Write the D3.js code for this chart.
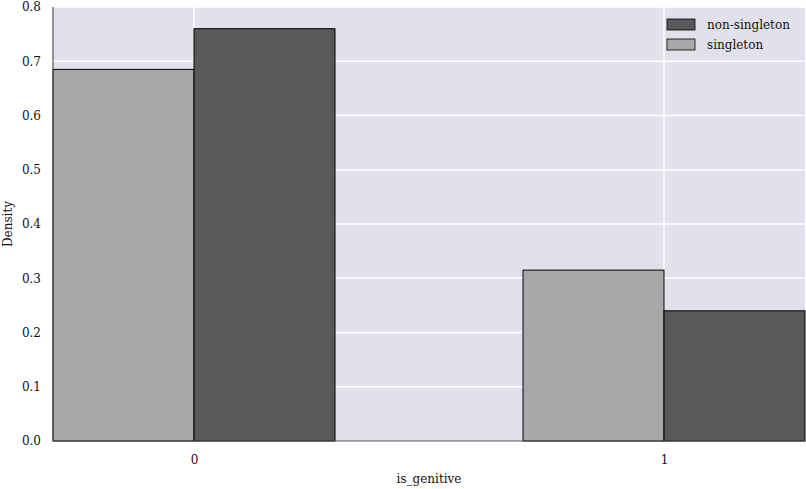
<!DOCTYPE html>
<html>
<head>
<meta charset="utf-8">
<script src="https://cdn.jsdelivr.net/npm/d3@7"></script>
<style>
  body { margin: 0; background: #fff; }
  text { font-family: "DejaVu Serif", serif; fill: #111; }
</style>
</head>
<body>
<div class="chart-container"></div>
<script>
// categories and series
const categories = [0, 1];
const seriesNames = ['non-singleton', 'singleton'];
const singleton = [0.685, 0.315];
const nonSingleton = [0.76, 0.24];
const yTicks = [0.0, 0.1, 0.2, 0.3, 0.4, 0.5, 0.6, 0.7, 0.8];

const width = 806, height = 489;
const margin = {top: 7, right: 1, bottom: 48, left: 53};

const colors = {'non-singleton': '#595959', 'singleton': '#a8a8a8'};

const svg = d3.select('.chart-container').append('svg')
    .attr('width', width)
    .attr('height', height);

// x is continuous: bars sit either side of each category value
const x = d3.scaleLinear()
    .domain([-0.3, 1.3])
    .range([margin.left, width - margin.right]);

const y = d3.scaleLinear()
    .domain([0, 0.8])
    .range([height - margin.bottom, margin.top]);

const barW = 0.3;

// background
svg.append('rect')
    .attr('x', x(-0.3)).attr('y', y(0.8))
    .attr('width', x(1.3) - x(-0.3))
    .attr('height', y(0) - y(0.8))
    .attr('fill', '#e1e1ec');

// grid
const grid = svg.append('g').attr('id', 'grid');
grid.selectAll('line.h')
    .data(yTicks.slice(1))
    .enter().append('line')
    .attr('class', 'h')
    .attr('x1', x(-0.3)).attr('x2', x(1.3))
    .attr('y1', d => y(d)).attr('y2', d => y(d))
    .attr('stroke', '#fff').attr('stroke-width', 1.5);
grid.selectAll('line.v')
    .data(categories)
    .enter().append('line')
    .attr('class', 'v')
    .attr('x1', d => x(d)).attr('x2', d => x(d))
    .attr('y1', y(0)).attr('y2', y(0.8))
    .attr('stroke', '#fff').attr('stroke-width', 1.5);

// bars: singleton left of category, non-singleton right
const bars = svg.append('g').attr('id', 'bars');
bars.selectAll('rect.single')
    .data(categories)
    .enter().append('rect')
    .attr('class', 'single')
    .attr('x', d => x(d - barW))
    .attr('y', (d, i) => y(singleton[i]))
    .attr('width', x(barW) - x(0))
    .attr('height', (d, i) => y(0) - y(singleton[i]))
    .attr('fill', colors['singleton'])
    .attr('stroke', '#000').attr('stroke-width', 1);
bars.selectAll('rect.nonsingle')
    .data(categories)
    .enter().append('rect')
    .attr('class', 'nonsingle')
    .attr('x', d => x(d))
    .attr('y', (d, i) => y(nonSingleton[i]))
    .attr('width', x(barW) - x(0))
    .attr('height', (d, i) => y(0) - y(nonSingleton[i]))
    .attr('fill', colors['non-singleton'])
    .attr('stroke', '#000').attr('stroke-width', 1);

// spines
svg.append('line')
    .attr('x1', x(-0.3)).attr('x2', x(-0.3))
    .attr('y1', y(0.8)).attr('y2', y(0))
    .attr('stroke', '#555').attr('stroke-width', 1.2);
svg.append('line')
    .attr('x1', x(-0.3)).attr('x2', x(1.3))
    .attr('y1', y(0)).attr('y2', y(0))
    .attr('stroke', '#555').attr('stroke-width', 1.2);

// axes
const yAxis = d3.axisLeft(y).tickValues(yTicks).tickFormat(d3.format('.1f')).tickSize(0).tickPadding(12);
svg.append('g')
    .attr('transform', 'translate(' + x(-0.3) + ',0)')
    .call(yAxis)
    .call(g => g.select('.domain').remove())
    .selectAll('text').style('font-size', '12px').attr('font-family', null);

const xAxis = d3.axisBottom(x).tickValues(categories).tickFormat(d3.format('d')).tickSize(0).tickPadding(14);
svg.append('g')
    .attr('transform', 'translate(0,' + y(0) + ')')
    .call(xAxis)
    .call(g => g.select('.domain').remove())
    .selectAll('text').style('font-size', '12px').attr('font-family', null);

// labels
svg.append('text')
    .attr('x', (x(-0.3) + x(1.3)) / 2)
    .attr('y', 483)
    .attr('text-anchor', 'middle')
    .style('font-size', '12px')
    .text('is_genitive');
svg.append('text')
    .attr('transform', 'translate(12,' + (y(0) + y(0.8)) / 2 + ') rotate(-90)')
    .attr('text-anchor', 'middle')
    .style('font-size', '12px')
    .text('Density');

// legend
const legend = svg.append('g').attr('transform', 'translate(667,19)');
seriesNames.forEach((name, i) => {
    const row = legend.append('g').attr('transform', 'translate(0,' + i * 20 + ')');
    row.append('rect')
        .attr('width', 28).attr('height', 11)
        .attr('fill', colors[name])
        .attr('stroke', '#000').attr('stroke-width', 0.8);
    row.append('text')
        .attr('x', 40).attr('y', 10)
        .style('font-size', '12px')
        .text(name);
});
</script>
</body>
</html>
